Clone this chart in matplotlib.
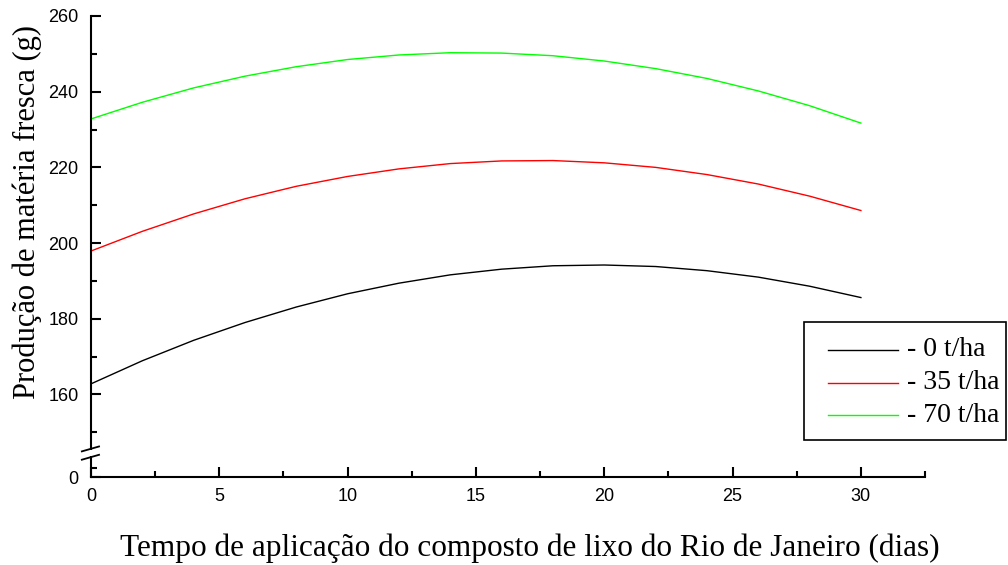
import matplotlib
matplotlib.use("Agg")
import matplotlib.pyplot as plt
from matplotlib.lines import Line2D
from matplotlib.patches import Rectangle
import numpy as np

# Days of application and fresh-matter production (g) per compost dose
dias = [0, 2, 4, 6, 8, 10, 12, 14, 16, 18, 20, 22, 24, 26, 28, 30]
dose_0 = [162.8, 168.9, 174.3, 179.0, 183.1, 186.6, 189.4, 191.6,
          193.1, 194.0, 194.2, 193.8, 192.7, 191.0, 188.6, 185.6]
dose_35 = [197.9, 203.1, 207.7, 211.7, 215.0, 217.6, 219.6, 221.0,
           221.7, 221.8, 221.2, 220.0, 218.1, 215.6, 212.4, 208.6]
dose_70 = [232.8, 237.2, 241.0, 244.1, 246.6, 248.5, 249.7, 250.3,
           250.2, 249.5, 248.1, 246.1, 243.5, 240.2, 236.3, 231.7]
labels = ["- 0 t/ha", "- 35 t/ha", "- 70 t/ha"]
colors = ["#000000", "#ff0000", "#00ff00"]

x_major = [0, 5, 10, 15, 20, 25, 30]
y_major_labels = ["0", "160", "180", "200", "220", "240", "260"]

# broken y axis: the value 0 sits just below the 150 mark
Y_ZERO = 138.1
y_major_pos = [Y_ZERO, 160, 180, 200, 220, 240, 260]
y_minor_pos = [140.5, 150, 170, 190, 210, 230, 250]

serif = ["Liberation Serif", "DejaVu Serif"]
sans = ["Liberation Sans", "DejaVu Sans"]

W, H = 1008, 565
fig = plt.figure(figsize=(W / 100, H / 100), dpi=100)
ax = fig.add_axes([0.0903, 0.1552, 0.8274, 0.8165])

series = [dose_0, dose_35, dose_70]
for y, c, lab in zip(series, colors, labels):
    ax.plot(dias, y, color=c, lw=1.0, label=lab)

ax.set_xlim(0, 32.5)
ax.set_ylim(Y_ZERO, 260)

ax.spines["top"].set_visible(False)
ax.spines["right"].set_visible(False)
for s in ("left", "bottom"):
    ax.spines[s].set_linewidth(1.5)

ax.set_xticks(x_major)
ax.set_xticks(np.arange(2.5, 33, 5), minor=True)
ax.set_yticks(y_major_pos)
ax.set_yticklabels(y_major_labels)
ax.set_yticks(y_minor_pos, minor=True)

ax.tick_params(which="major", direction="in", length=7, width=1.5,
               labelsize=13, pad=9)
ax.tick_params(which="minor", direction="in", length=4, width=1.5)
ax.tick_params(axis="x", which="major", pad=8)
for t in ax.get_xticklabels() + ax.get_yticklabels():
    t.set_family(sans)

# axis break marks on the y spine
tr = ax.get_yaxis_transform()
ax.plot([0, 0], [143.6, 145.4], transform=tr, color="white", lw=3,
        clip_on=False, zorder=4, solid_capstyle="butt")
for yc in (145.6, 143.4):
    ax.plot([-0.011, 0.0096], [yc - 0.65, yc + 0.65], transform=tr,
            color="black", lw=1.3, clip_on=False, zorder=5)

fig.text(530 / W, 1 - 548 / H,
         "Tempo de aplicação do composto de lixo do Rio de Janeiro (dias)",
         family=serif, fontsize=22.5, ha="center", va="center")
fig.text(27 / W, 1 - 212 / H, "Produção de matéria fresca (g)",
         family=serif, fontsize=22, ha="center", va="center", rotation=90)

# legend box drawn in figure pixels
def fx(px):
    return px / W

def fy(py):
    return 1 - py / H

fig.add_artist(Rectangle((fx(804), fy(440)), fx(1006) - fx(804),
                         fy(322) - fy(440), transform=fig.transFigure,
                         facecolor="white", edgecolor="black", lw=1.2,
                         zorder=6))
for row, (c, lab) in enumerate(zip(colors, labels)):
    yy = fy(350 + 32.5 * row)
    fig.add_artist(Line2D([fx(828), fx(898)], [yy, yy], color=c, lw=1.0,
                          transform=fig.transFigure, zorder=7))
    fig.text(fx(907), yy, lab, family=serif, fontsize=20, ha="left",
             va="center", zorder=7)

fig.savefig("out.png", dpi=100)
